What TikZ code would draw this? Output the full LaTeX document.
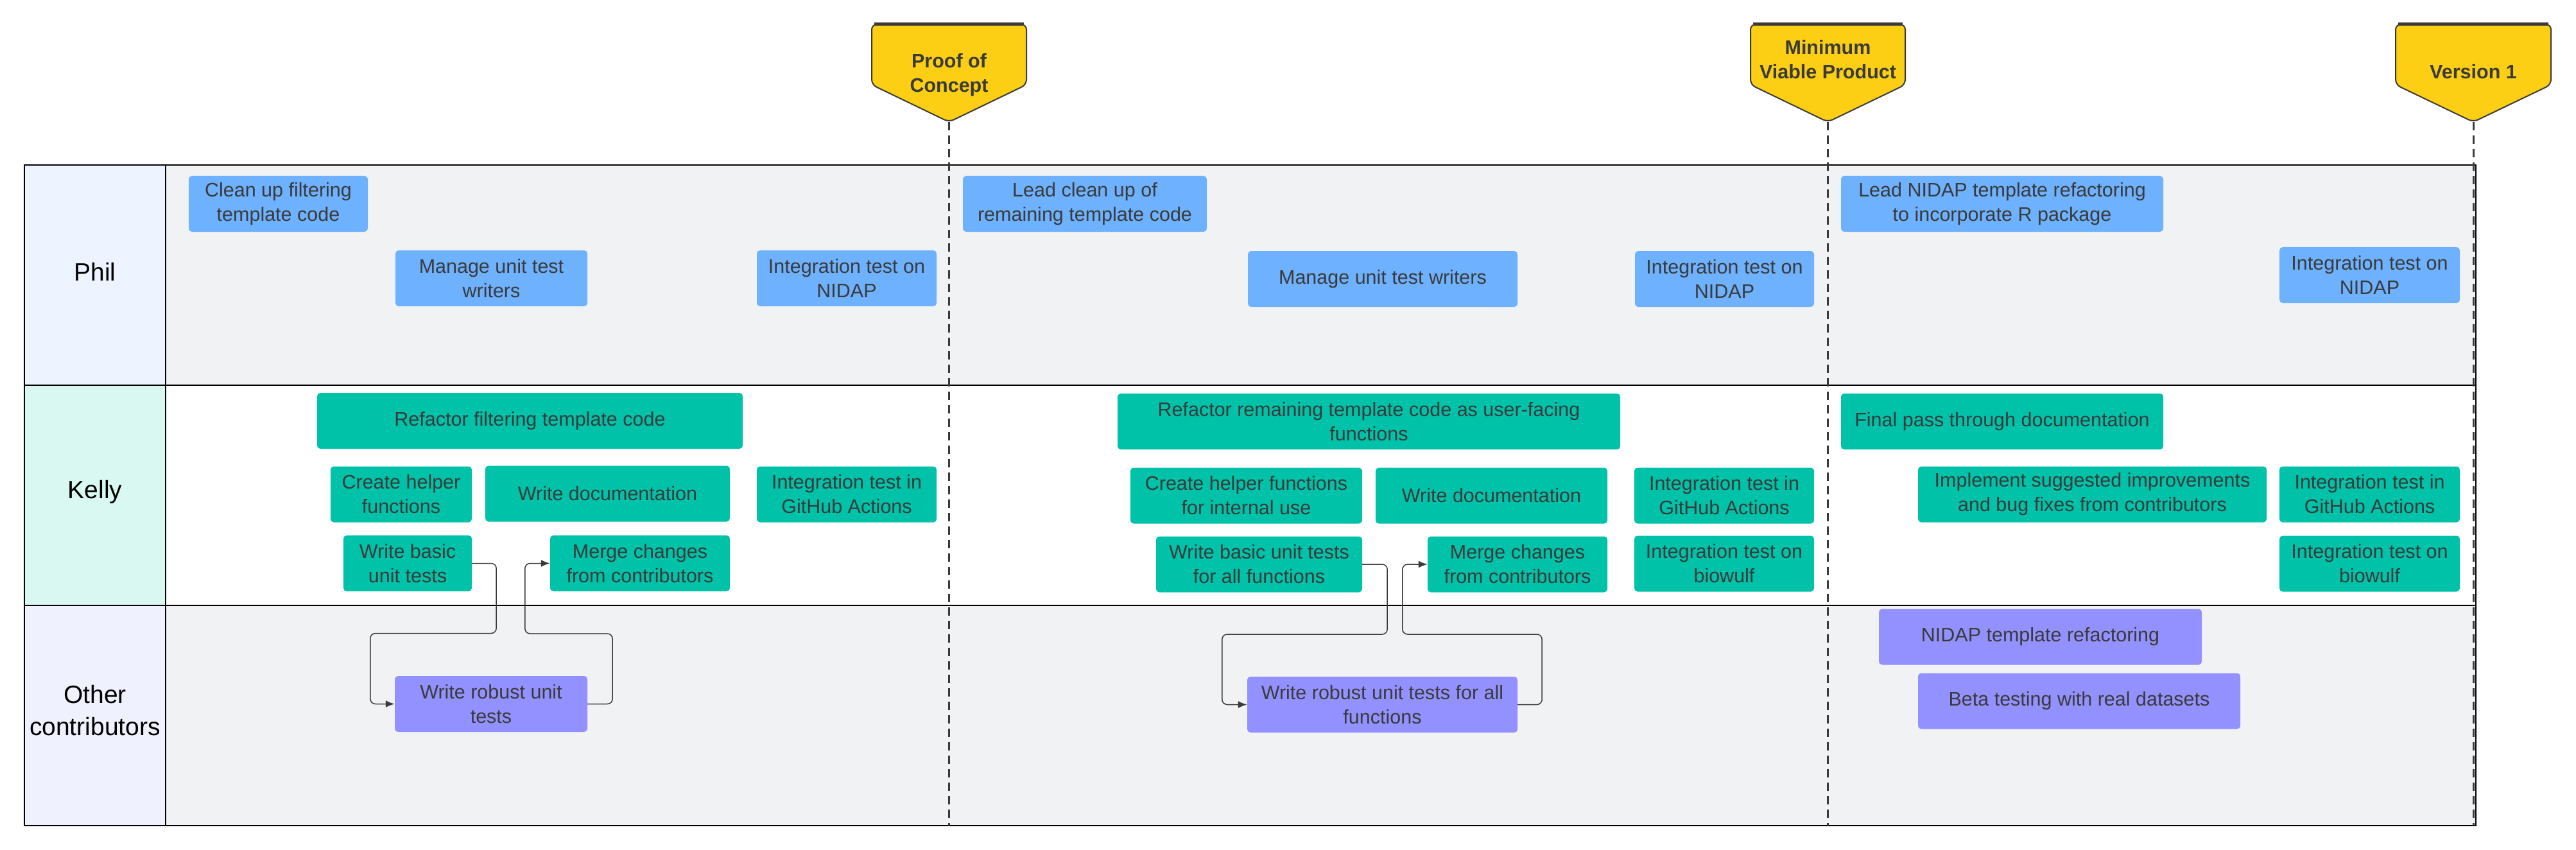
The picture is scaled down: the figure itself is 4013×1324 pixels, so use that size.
\documentclass[tikz,border=0pt]{standalone}
\usepackage{fontspec}
\setmainfont{Liberation Sans}
\usetikzlibrary{arrows.meta,calc}

\definecolor{philblue}{HTML}{6DB1FF}
\definecolor{kellyteal}{HTML}{00C2A8}
\definecolor{otherpurple}{HTML}{9391FF}
\definecolor{milestoneyellow}{HTML}{FCCE14}
\definecolor{lanegray}{HTML}{F1F2F4}
\definecolor{philhead}{HTML}{EDF4FF}
\definecolor{kellyhead}{HTML}{D8F8F1}
\definecolor{otherhead}{HTML}{F0F1FE}
\definecolor{tasktext}{HTML}{3A3A3A}

\tikzset{
  task/.style={rounded corners=5pt, minimum height=87pt, inner sep=0pt, align=center, text=tasktext, font=\fontsize{30.5}{38}\selectfont},
  philtask/.style={task, fill=philblue},
  kellytask/.style={task, fill=kellyteal},
  othertask/.style={task, fill=otherpurple},
  lanelabel/.style={font=\fontsize{39}{50}\selectfont, align=center},
  milestone/.style={draw=tasktext, line width=2pt, fill=milestoneyellow, rounded corners=8pt},
  milestonetext/.style={font=\bfseries\fontsize{30.5}{38}\selectfont, align=center, text=tasktext},
  timeline/.style={draw=tasktext, line width=3pt, dash pattern=on 13pt off 8pt},
  flow/.style={draw=tasktext, line width=1.5pt, rounded corners=8pt, -{Latex[length=14pt,width=11pt]}},
}

\begin{document}
\begin{tikzpicture}[x=1pt,y=-1pt]
                    \useasboundingbox (0,0) rectangle (4013,1324);
                    \fill [lanegray] (258,257) rectangle (3857,600);
                    \fill [white] (258,600) rectangle (3857,943);
                    \fill [lanegray] (258,943) rectangle (3857,1286);
                    \fill [philhead] (38,257) rectangle (258,600);
                    \fill [kellyhead] (38,600) rectangle (258,943);
                    \fill [otherhead] (38,943) rectangle (258,1286);
                    \draw [line width=2pt] (38,257) rectangle (3857,1286);
                    \draw [line width=2pt] (38,600) -- (3857,600);
                    \draw [line width=2pt] (38,943) -- (3857,943);
                    \draw [line width=2pt] (258,257) -- (258,1286);
                    \node [lanelabel] (phil) at (148,423) {Phil};
                    \node [lanelabel] (kelly) at (148,766) {Kelly};
                    \node [lanelabel] (other) at (148,1107) {Other\\contributors};

                    \coordinate (pocTip) at (1478.5,190);
                    \coordinate (pocEnd) at (1478.5,1286);
                    \coordinate (mvpTip) at (2847.5,190);
                    \coordinate (mvpEnd) at (2847.5,1286);
                    \coordinate (vOneTip) at (3853,190);
                    \coordinate (vOneEnd) at (3853,1286);
                    \draw [timeline] (pocTip) -- (pocEnd);
                    \draw [timeline] (mvpTip) -- (mvpEnd);
                    \draw [timeline] (vOneTip) -- (vOneEnd);
                    \filldraw [milestone] (1358,38) -- (1599,38) -- (1599,132) -- (pocTip) -- (1358,132) -- cycle;
                    \filldraw [milestone] (2727,38) -- (2968,38) -- (2968,132) -- (mvpTip) -- (2727,132) -- cycle;
                    \filldraw [milestone] (3732,38) -- (3974,38) -- (3974,132) -- (vOneTip) -- (3732,132) -- cycle;
                    \draw [line width=5pt, draw=tasktext] (1362,38) -- (1595,38);
                    \draw [line width=5pt, draw=tasktext] (2731,38) -- (2964,38);
                    \draw [line width=5pt, draw=tasktext] (3736,38) -- (3970,38);
                    \node [milestonetext] (poc) at (1478.5,117) {Proof of\\Concept};
                    \node [milestonetext] (mvp) at (2847.5,93) {Minimum\\Viable Product};
                    \node [milestonetext] (vOne) at (3853,112) {Version 1};

                    \node [philtask, minimum width=279pt] (cleanA) at (433.5,317.5) {Clean up filtering\\template code};
                    \node [philtask, minimum width=299pt] (manageA) at (765.5,433.5) {Manage unit test\\writers};
                    \node [philtask, minimum width=280pt] (nidapA) at (1319,433.5) {Integration test on\\NIDAP};
                    \node [philtask, minimum width=380pt] (leadB) at (1690,317.5) {Lead clean up of\\remaining template code};
                    \node [philtask, minimum width=420pt] (manageB) at (2154,434.5) {Manage unit test writers};
                    \node [philtask, minimum width=279pt] (nidapB) at (2686.5,434.5) {Integration test on\\NIDAP};
                    \node [philtask, minimum width=502pt] (leadC) at (3119,317.5) {Lead NIDAP template refactoring\\to incorporate R package};
                    \node [philtask, minimum width=281pt] (nidapC) at (3691.5,428.5) {Integration test on\\NIDAP};

                    \node [kellytask, minimum width=663pt] (refactorA) at (825.5,655.5) {Refactor filtering template code};
                    \node [kellytask, minimum width=220pt] (helperA) at (625,770) {Create helper\\functions};
                    \node [kellytask, minimum width=381pt] (docA) at (946.5,769) {Write documentation};
                    \node [kellytask, minimum width=280pt] (ghA) at (1319,770) {Integration test in\\GitHub Actions};
                    \node [kellytask, minimum width=200pt] (basicA) at (635,877.5) {Write basic\\unit tests};
                    \node [kellytask, minimum width=280pt] (mergeA) at (997,877.5) {Merge changes\\from contributors};
                    \node [kellytask, minimum width=783pt] (refactorB) at (2132.5,656.5) {Refactor remaining template code as user-facing\\functions};
                    \node [kellytask, minimum width=361pt] (helperB) at (1941.5,772) {Create helper functions\\for internal use};
                    \node [kellytask, minimum width=361pt] (docB) at (2323.5,772) {Write documentation};
                    \node [kellytask, minimum width=280pt] (ghB) at (2686,772) {Integration test in\\GitHub Actions};
                    \node [kellytask, minimum width=321pt] (basicB) at (1961.5,879) {Write basic unit tests\\for all functions};
                    \node [kellytask, minimum width=280pt] (mergeB) at (2364,879) {Merge changes\\from contributors};
                    \node [kellytask, minimum width=280pt] (biowulfB) at (2686,878) {Integration test on\\biowulf};
                    \node [kellytask, minimum width=502pt] (finalC) at (3119,656.5) {Final pass through documentation};
                    \node [kellytask, minimum width=543pt] (implC) at (3259.5,770) {Implement suggested improvements\\and bug fixes from contributors};
                    \node [kellytask, minimum width=281pt] (ghC) at (3691.5,770) {Integration test in\\GitHub Actions};
                    \node [kellytask, minimum width=281pt] (biowulfC) at (3691.5,878) {Integration test on\\biowulf};

                    \node [othertask, minimum width=300pt] (robustA) at (765,1096.5) {Write robust unit\\tests};
                    \node [othertask, minimum width=421pt] (robustB) at (2153.5,1097.5) {Write robust unit tests for all\\functions};
                    \node [othertask, minimum width=503pt] (nidapRefC) at (3178.5,992) {NIDAP template refactoring};
                    \node [othertask, minimum width=502pt] (betaC) at (3239,1092) {Beta testing with real datasets};

                    \draw [flow] (basicA.east) -- ++(38,0) -- ++(0,109) -| ($(robustA.west)+(-38,0)$) -- (robustA.west);
                    \draw [flow] (robustA.east) -- ++(39,0) -- ++(0,-109.5) -| ($(mergeA.west)+(-39,0)$) -- (mergeA.west);
                    \draw [flow] (basicB.east) -- ++(39,0) -- ++(0,109) -| ($(robustB.west)+(-39,0)$) -- (robustB.west);
                    \draw [flow] (robustB.east) -- ++(38,0) -- ++(0,-109.5) -| ($(mergeB.west)+(-39,0)$) -- (mergeB.west);
                \end{tikzpicture}
\end{document}
